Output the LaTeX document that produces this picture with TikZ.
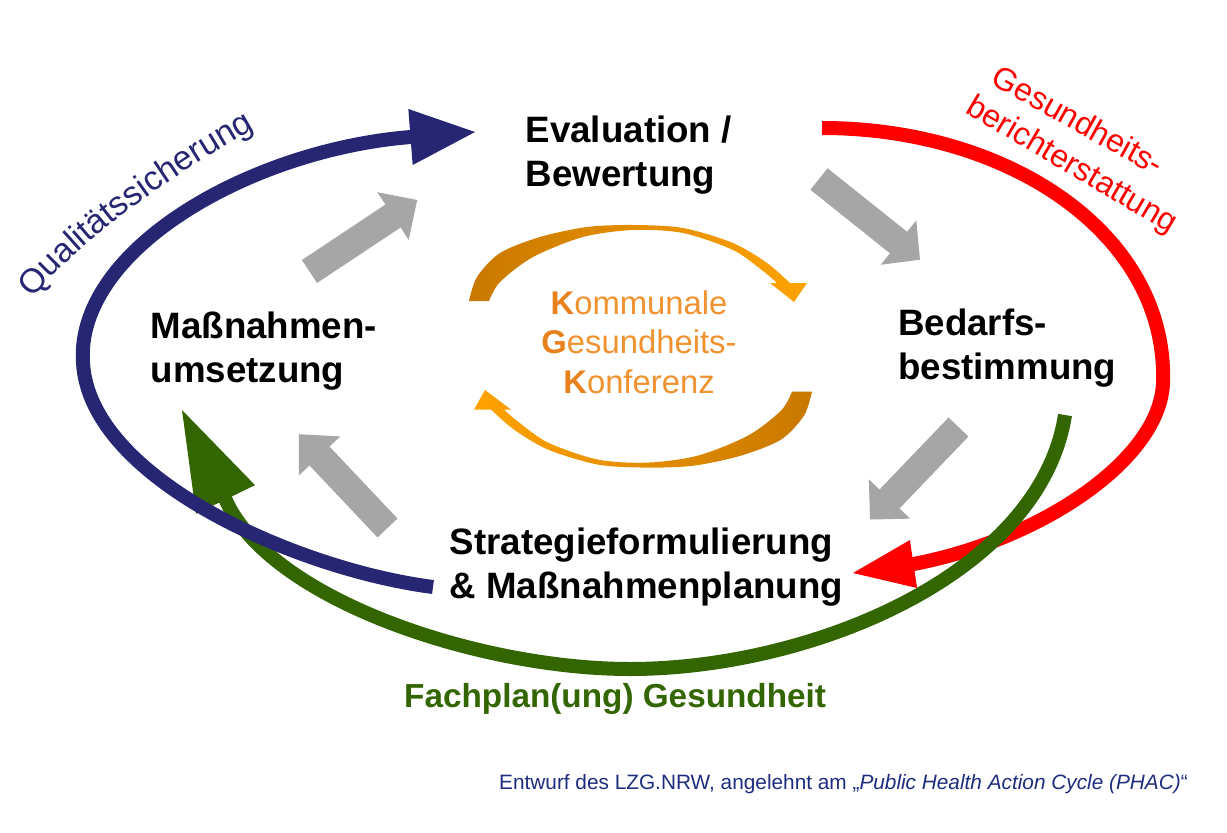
\documentclass[tikz,border=0pt]{standalone}
\usepackage{fontspec}
\setmainfont{Liberation Sans}
\usetikzlibrary{calc,decorations.text}
\definecolor{navy}{RGB}{38,38,114}
\definecolor{grn}{RGB}{51,102,0}
\definecolor{rd}{RGB}{255,0,0}
\definecolor{gry}{RGB}{166,166,166}
\definecolor{orDark}{RGB}{200,120,0}
\definecolor{orLight}{RGB}{255,163,0}
\definecolor{orK}{RGB}{232,128,28}
\definecolor{orT}{RGB}{241,146,48}
\definecolor{foot}{RGB}{30,45,125}
\newcommand{\myblockarrow}[3]{%
  \draw[grayshaft] (#1) -- ($(#2)!1pt!(#3)$);
  \fill[gry] ($(#2)!28.5pt!90:(#3)$) -- (#3) -- ($(#2)!28.5pt!-90:(#3)$) -- cycle;}
\newcommand{\myarchead}[4]{%
  \fill[#4] ($(#1)!#3!90:(#2)$) -- (#2) -- ($(#1)!#3!-90:(#2)$) -- cycle;}
\begin{document}
\begin{tikzpicture}[x=1pt,y=-1pt,
  stage/.style={font=\fontsize{36.7}{44}\selectfont\bfseries, align=left, anchor=base west, inner sep=0pt},
  bigarc/.style={line width=14pt, line cap=butt},
  grayshaft/.style={line width=27.5pt, draw=gry, line cap=butt},
  slogan/.style={font=\fontsize{32}{38}\selectfont, anchor=base, inner sep=0pt}]
\useasboundingbox (0,0) rectangle (1227,833);
\fill[white] (0,0) rectangle (1227,833);

% gray process arrows
\coordinate (g1t) at (309.5,271.5); \coordinate (g1b) at (393,216);   \coordinate (g1h) at (417.2,200);
\coordinate (g2t) at (819,179);     \coordinate (g2b) at (898.5,242.5); \coordinate (g2h) at (920,259.7);
\coordinate (g3t) at (958.5,427);   \coordinate (g3b) at (889.5,499); \coordinate (g3h) at (870,519.5);
\coordinate (g4t) at (387.5,528);   \coordinate (g4b) at (319.5,456); \coordinate (g4h) at (298.9,434.2);
\myblockarrow{g1t}{g1b}{g1h}
\myblockarrow{g2t}{g2b}{g2h}
\myblockarrow{g3t}{g3b}{g3h}
\myblockarrow{g4t}{g4b}{g4h}

% orange cycle arrows
\shade[left color=orDark, right color=orLight]
  plot[smooth] coordinates {(469,301) (477,277) (500,253) (540,237) (587,227) (633,225) (683,228) (733,243) (767,263) (790,283)}
  -- (807,283) -- (794,302) -- (770,283)
  -- plot[smooth] coordinates {(777,283) (763,271) (733,250) (683,233) (633,230) (583,237) (533,257) (500,282) (489,301)}
  -- cycle;
\shade[left color=orLight, right color=orDark]
  plot[smooth] coordinates {(812,391.6) (804,415.6) (781,439.6) (741,455.6) (694,465.6) (648,467.6) (598,464.6) (548,449.6) (514,429.6) (491,409.6)}
  -- (474,409.6) -- (485,390) -- (511,409.6)
  -- plot[smooth] coordinates {(504,409.6) (518,421.6) (548,442.6) (598,459.6) (648,462.6) (698,455.6) (748,435.6) (781,410.6) (792,391.6)}
  -- cycle;

% stage texts (anchor = baseline of last line)
\node[stage] (eval) at (525.5,186) {Evaluation /\\Bewertung};
\node[stage] (bedarf) at (898,379) {Bedarfs-\\bestimmung};
\node[stage] (umsetz) at (150.5,382) {Maßnahmen-\\umsetzung};
\node[stage] (strat) at (449.5,598) {Strategieformulierung\\\& Maßnahmenplanung};

\node[font=\fontsize{32.8}{39.4}\selectfont, align=center, anchor=base, inner sep=0pt] (kgk) at (639,393)
  {\textcolor{orK}{\textbf{K}}\textcolor{orT}{ommunale}\\
   \textcolor{orK}{\textbf{G}}\textcolor{orT}{esundheits-}\\
   \textcolor{orK}{\textbf{K}}\textcolor{orT}{onferenz}};

% curved label along the quality arc
\coordinate (qsA) at (30,301); \coordinate (qsB) at (258,127);
\path[decorate, decoration={text along path, text align=center,
    text={|\fontsize{34}{40}\selectfont\color{navy}|Qualitätssicherung}}]
  (qsA) .. controls (90,231) and (175,174) .. (qsB);

\node[slogan, text=rd, rotate=-29] (gbe1) at (1073,130) {Gesundheits-};
\node[slogan, text=rd, rotate=-30.5] (gbe2) at (1067,173) {berichterstattung};
\node[font=\fontsize{33.3}{40}\selectfont\bfseries, text=grn, anchor=base west, inner sep=0pt] (fach) at (404,707) {Fachplan(ung) Gesundheit};
\node[font=\fontsize{20.8}{24}\selectfont, text=foot, anchor=base west, inner sep=0pt] (foot) at (499,789)
  {Entwurf des LZG.NRW, angelehnt am „\textit{Public Health Action Cycle (PHAC)}“};

% red arc: Gesundheitsberichterstattung
\coordinate (r0) at (822,128); \coordinate (r1) at (1163,383);
\coordinate (rb) at (913.5,564); \coordinate (rt) at (853,573);
\draw[bigarc, rd] (r0) .. controls (1010,128) and (1168,235) .. (r1)
  .. controls (1160,460) and (1040,540) .. (rb) -- ($(rb)!4pt!(rt)$);
\myarchead{rb}{rt}{24.25pt}{rd}

% green arc: Fachplanung
\coordinate (gr0) at (1065,415); \coordinate (gr1) at (630,669);
\coordinate (grb) at (225.5,499.5); \coordinate (grt) at (182,410);
\draw[bigarc, grn] (gr0) .. controls (1040,575) and (810,669) .. (gr1)
  .. controls (480,669) and (270,600) .. (grb) -- ($(grb)!4pt!(grt)$);
\myarchead{grb}{grt}{32.8pt}{grn}

% blue arc: Qualitaetssicherung
\coordinate (b0) at (433,587); \coordinate (b1) at (83,363);
\coordinate (bb) at (410.5,137); \coordinate (bt) at (475,132);
\draw[bigarc, navy] (b0) .. controls (300,570) and (90,480) .. (b1)
  .. controls (75,250) and (250,150) .. (bb) -- ($(bb)!4pt!(bt)$);
\myarchead{bb}{bt}{28.1pt}{navy}
\end{tikzpicture}
\end{document}
